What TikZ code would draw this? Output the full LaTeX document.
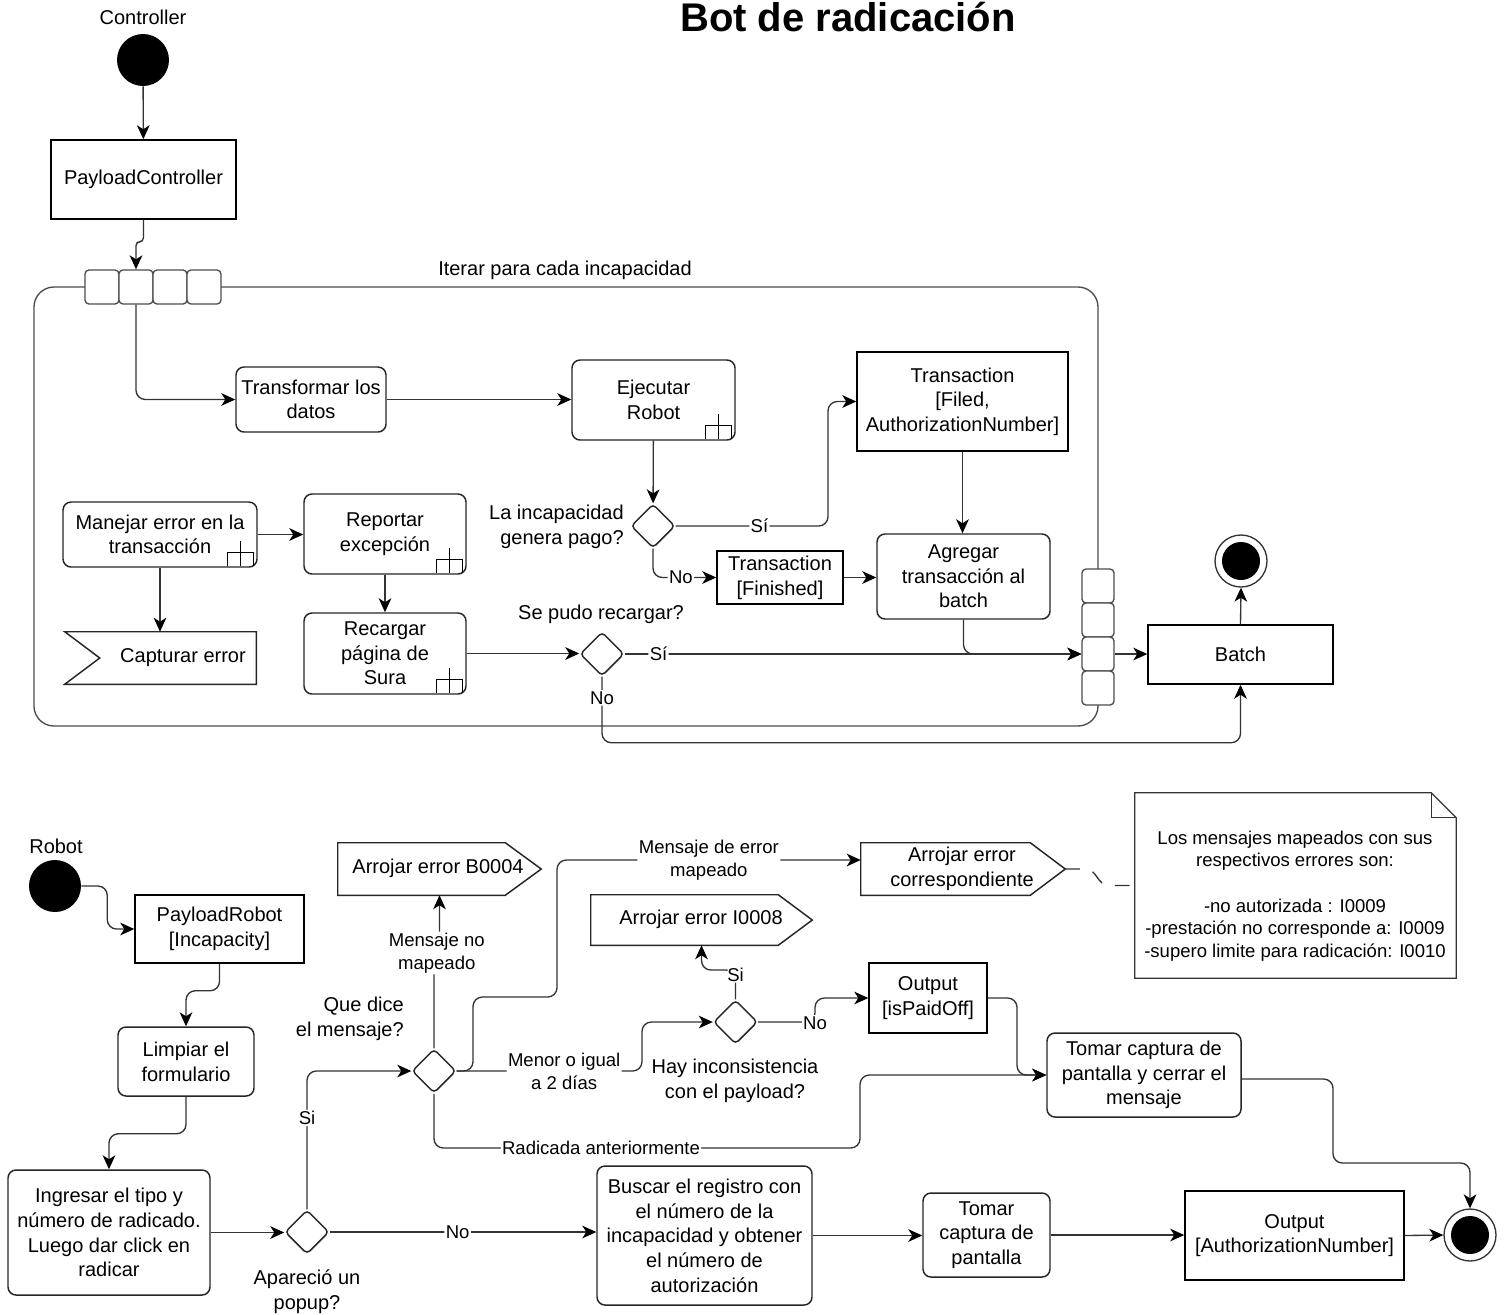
\documentclass[tikz,border=0pt]{standalone}
\usepackage{fontspec}
\setmainfont{Liberation Sans}
\usetikzlibrary{arrows.meta,shapes.geometric,calc}

\newcommand\mainf{\fontsize{15}{18.5}\selectfont}
\newcommand\lblf{\fontsize{13.9}{17.2}\selectfont}
\newcommand\notef{\fontsize{13.9}{17}\selectfont}

% small "rake" marker of a call-behaviour action, in the lower right corner of a node
\newcommand\subicon[1]{%
  \draw[line width=1pt, black] ([shift={(-30,-2)}]#1.south east) -- ++(0,-13) -- ++(26,0) -- ++(0,13)
        ([shift={(-17,-2)}]#1.south east) -- ++(0,-25);}

\tikzset{
  box/.style={draw=black, line width=1.1pt, fill=white, align=center, inner sep=1pt, font=\mainf},
  act/.style={box, rounded corners=6pt, draw=black!85},
  sz/.style 2 args={minimum width=#1*0.75pt, minimum height=#2*0.75pt},
  pinbox/.style={draw=black!70, line width=1pt, fill=white, rounded corners=3pt,
                 minimum width=34*0.75pt, minimum height=34*0.75pt, inner sep=0pt},
  dec/.style={diamond, draw=black!85, line width=1.1pt, fill=white, rounded corners=3pt,
              minimum width=44*0.75pt, minimum height=44*0.75pt, inner sep=0pt, aspect=1},
  startnode/.style={circle, fill=black, minimum size=52*0.75pt, inner sep=0pt},
  endnode/.style={circle, draw=black!80, line width=1pt, fill=white, minimum size=52*0.75pt, inner sep=0pt},
  flow/.style={draw=black!80, line width=1pt, rounded corners=7pt,
               -{Stealth[length=10.5pt,width=9.5pt,inset=3pt,color=black]}},
  lbl/.style={fill=white, inner sep=1pt, font=\lblf, align=center},
  txt/.style={font=\mainf, align=center, inner sep=0pt},
  shapeline/.style={draw=black!85, line width=1.1pt},
}

\begin{document}
\begin{tikzpicture}[x=0.75pt, y=-0.75pt]
\fill[white] (0,0) rectangle (1505,1314);
\useasboundingbox (0,0) rectangle (1505,1314);

\node[font=\fontsize{30}{36}\selectfont\bfseries, anchor=base, inner sep=0pt] (title) at (848,31) {Bot de radicación};

%% ---------------- Controller ----------------
\node[txt] (ctrl) at (143,17) {Controller};
\node[startnode] (s1) at (143,60) {};
\node[box, sz={185}{79}] (pc) at (143.5,179.5) {PayloadController};

% expansion region with its input and output pins
\node[draw=black!70, line width=1pt, rounded corners=15pt, sz={1064}{439}, inner sep=0pt] (loop) at (566,506.5) {};
\node[pinbox] (p1) at (102,287) {};
\node[pinbox] (p2) at (136,287) {};
\node[pinbox] (p3) at (170,287) {};
\node[pinbox] (p4) at (204,287) {};
\node[pinbox, minimum width=32*0.75pt] (r1) at (1098,586) {};
\node[pinbox, minimum width=32*0.75pt] (r2) at (1098,620) {};
\node[pinbox, minimum width=32*0.75pt] (r3) at (1098,654) {};
\node[pinbox, minimum width=32*0.75pt] (r4) at (1098,688) {};
\node[txt] (iter) at (565,270) {Iterar para cada incapacidad};

\node[act, sz={150}{65}] (trans) at (311,399.5) {Transformar los\\datos};
\node[act, sz={163}{80}] (ejec) at (653.5,400) {Ejecutar\\Robot};
\subicon{ejec}
\node[dec] (d1) at (653,526) {};
\node[txt, anchor=east, align=right] (d1l) at (624,527) {La incapacidad\\genera pago?};
\node[box, sz={211}{99}] (tfil) at (962.5,401.5) {Transaction\\{}[Filed,\\AuthorizationNumber]};
\node[box, sz={126}{53}] (tfin) at (780,577.5) {Transaction\\{}[Finished]};
\node[act, sz={173}{85}] (agr) at (963.5,576.5) {Agregar\\transacción al\\batch};
\node[box, sz={185}{59}] (batch) at (1240.5,654.5) {Batch};
\node[endnode] (e1) at (1241,561) {};
\fill[black] (e1.center) circle[radius=14.25pt];

\node[act, sz={194}{65}] (man) at (160,534.5) {Manejar error en la\\transacción};
\subicon{man}
\node[act, sz={162}{80}] (rep) at (385,534) {Reportar\\excepción};
\subicon{rep}
\node[inner sep=0pt, sz={191}{52}] (cap) at (160.5,658) {};
\draw[shapeline] (cap.north west) -- (cap.north east) -- (cap.south east) -- (cap.south west)
      -- ($(cap.west)+(35,0)$) -- cycle;
\node[txt] (capt) at (183,658) {Capturar error};
\node[act, sz={162}{81}] (rec) at (385,653.5) {Recargar\\página de\\Sura};
\subicon{rec}
\node[dec] (d2) at (602,654) {};
\node[txt] (d2l) at (601,614) {Se pudo recargar?};

% connectors
\draw[flow] (s1) -- (pc);
\draw[flow, rounded corners=3pt] (pc.south) -- ++(0,22) -| (p2.north);
\draw[flow] (p2.south) |- (trans.west);
\draw[flow] (trans.east) -- (trans.east -| ejec.west);
\draw[flow] (ejec) -- (d1);
\draw[flow] (d1.east) -- node[lbl, pos=0.55]{Sí} (828,526) |- (tfil.west);
\draw[flow] (d1.south) |- node[lbl, pos=0.72]{No} (tfin.west);
\draw[flow] (tfin.east) -- (tfin.east -| agr.west);
\draw[flow] (tfil.south) -- (tfil.south |- agr.north);
\draw[flow] (agr.south) |- (r3.west);
\draw[flow] (r3.east) -- (r3.east -| batch.west);
\draw[flow] (batch.north) -- (e1.south);
\draw[flow] (man.east) -- (man.east -| rep.west);
\draw[flow] (man.south) -- (man.south |- cap.north);
\draw[flow] (rep) -- (rec);
\draw[flow] (rec.east) -- (rec.east -| d2.west);
\draw[flow] (d2.east) -- node[lbl, pos=0.074]{Sí} (r3.west);
\draw[flow] (d2.south) -- node[lbl, pos=0.32]{No} ++(0,66) -| (batch.south);

%% ---------------- Robot ----------------
\node[txt] (rob) at (56,846) {Robot};
\node[startnode] (s2) at (55,886) {};
\node[box, sz={169}{68}] (prob) at (219.5,929) {PayloadRobot\\{}[Incapacity]};
\node[act, sz={136}{69}] (limp) at (186,1061.5) {Limpiar el\\formulario};
\node[act, sz={202}{125}] (ing) at (109,1232.5) {Ingresar el tipo y\\número de radicado.\\Luego dar click en\\radicar};
\node[dec] (d3) at (307,1232) {};
\node[txt] (d3l) at (307,1292) {Apareció un\\popup?};
\node[dec] (d4) at (434,1071) {};
\node[txt, anchor=east, align=right] (d4l) at (404,1019) {Que dice\\el mensaje?};

\node[inner sep=0pt, sz={203}{52}] (b4) at (439.5,869) {};
\draw[shapeline] (b4.north west) -- ($(b4.north east)+(-36,0)$) -- (b4.east)
      -- ($(b4.south east)+(-36,0)$) -- (b4.south west) -- cycle;
\node[txt] at (438,868) {Arrojar error B0004};

\node[inner sep=0pt, sz={204}{52}] (corr) at (963,869) {};
\draw[shapeline] (corr.north west) -- ($(corr.north east)+(-35,0)$) -- (corr.east)
      -- ($(corr.south east)+(-35,0)$) -- (corr.south west) -- cycle;
\node[txt] at (962,869) {Arrojar error\\correspondiente};

\node[inner sep=0pt, sz={221}{50}] (i8) at (701.5,920) {};
\draw[shapeline] (i8.north west) -- ($(i8.north east)+(-34,0)$) -- (i8.east)
      -- ($(i8.south east)+(-34,0)$) -- (i8.south west) -- cycle;
\node[txt] at (701,919) {Arrojar error I0008};

\node[dec] (d5) at (735.5,1022) {};
\node[txt] (d5l) at (735,1081) {Hay inconsistencia\\con el payload?};
\node[box, sz={118}{70}] (opaid) at (928,998) {Output\\{}[isPaidOff]};
\node[act, sz={194}{84}] (tom1) at (1144,1075) {Tomar captura de\\pantalla y cerrar el\\mensaje};

% note with the mapped messages
\node[inner sep=0pt, sz={321}{185}] (note) at (1295.5,885.5) {};
\draw[draw=black!80, line width=1pt, fill=white] (note.north west) -- ($(note.north east)+(-25,0)$)
      -- ($(note.north east)+(0,25)$) -- (note.south east) -- (note.south west) -- cycle;
\draw[draw=black!80, line width=1pt] ($(note.north east)+(-25,0)$) -- ($(note.north east)+(-25,25)$)
      -- ($(note.north east)+(0,25)$);
\node[font=\notef, align=center, inner sep=0pt] (notet) at (1295,896) {Los mensajes mapeados con sus\\respectivos errores son:\\~\\-no autorizada : I0009\\-prestación no corresponde a: I0009\\-supero limite para radicación: I0010};

\node[act, sz={215}{139}] (busc) at (704.5,1235.5) {Buscar el registro con\\el número de la\\incapacidad y obtener\\el número de\\autorización};
\node[act, sz={127}{84}] (tom2) at (986.5,1235) {Tomar\\captura de\\pantalla};
\node[box, sz={219}{89}] (oauth) at (1294.5,1235.5) {Output\\{}[AuthorizationNumber]};
\node[endnode] (e2) at (1470,1235) {};
\fill[black] (e2.center) circle[radius=14.25pt];

% connectors
\draw[flow] (s2.east) -- ++(26,0) |- (prob.west);
\draw[flow] (prob.south) -- ++(0,27) -| (limp.north);
\draw[flow] (limp.south) -- ++(0,37) -| (ing.north);
\draw[flow] (ing.east) -- (ing.east -| d3.west);
\draw[flow] (d3.east) -- node[lbl, pos=0.48]{No} (d3.east -| busc.west);
\draw[flow] (d3.north) |- node[lbl, pos=0.33]{Si} (d4.west);
\draw[flow, rounded corners=2pt] (d4.north) -- (434,953) -- node[lbl]{Mensaje no\\mapeado} (439.5,953) -- (b4.south);
\draw[flow] (d4.east) -- (473,1071) -- (473,997) -- (557,997) -- (557,860)
      -- node[lbl, pos=0.5]{Mensaje de error\\mapeado} ($(corr.west)+(0,-9)$);
\draw[flow] (d4.east) -- node[lbl, pos=0.58]{Menor o igual\\a 2 días} (642,1071) |- (d5.west);
\draw[flow] (d4.south) |- node[lbl, pos=0.696]{Radicada anteriormente} (860,1148) |- (tom1.west);
\draw[flow] (d5.north) -- node[lbl, pos=0.85]{Si} (735.5,970) -| (i8.south);
\draw[flow] (d5.east) -- (815,1022) |- (opaid.west);
\node[lbl] (d5no) at (815,1023) {No};
\draw[flow] (opaid.east) -- (1017,998) |- (tom1.west);
\draw[flow] ($(tom1.east)+(0,4)$) -| (1333,1163) -| (e2.north);
\draw[flow] (busc.east) -- (busc.east -| tom2.west);
\draw[flow] (tom2.east) -- (tom2.east -| oauth.west);
\draw[flow] (oauth.east) -- (e2.west);
\draw[draw=black!80, line width=1pt, dash pattern=on 11pt off 10pt]
      (corr.east) -- (1085,869) .. controls (1098,869) and (1096,885.5) .. (1110,885.5) -- (note.west);
\end{tikzpicture}
\end{document}
